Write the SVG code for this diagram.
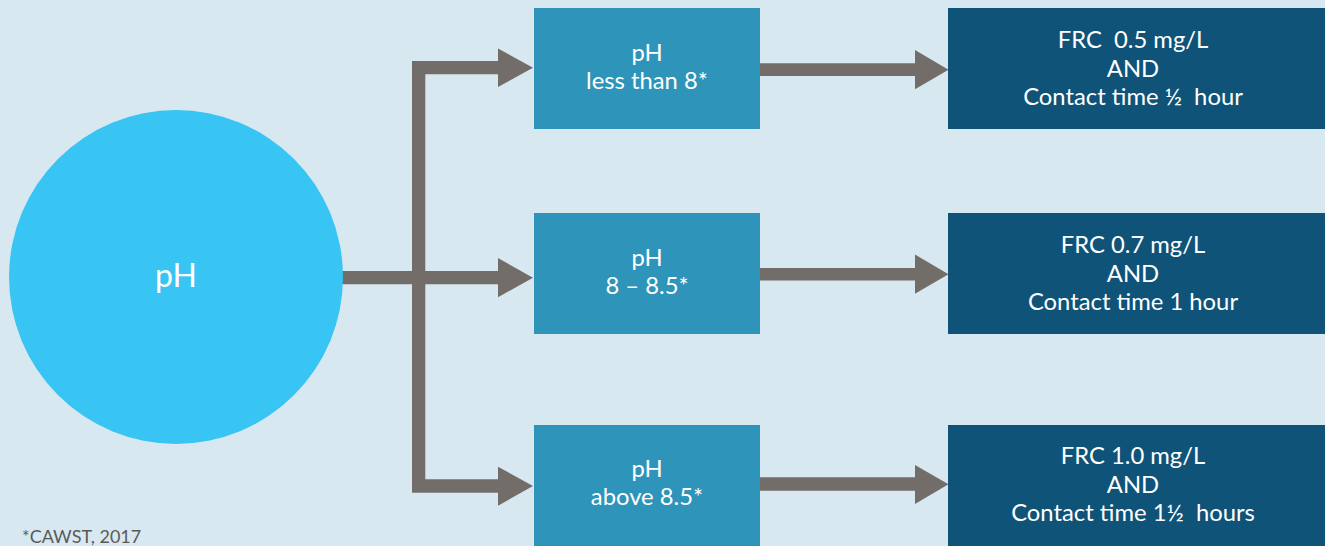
<svg xmlns="http://www.w3.org/2000/svg" width="1325" height="546" viewBox="0 0 1325 546">
<defs>
<style>
.t{font-family:Lato,"Open Sans","Liberation Sans",sans-serif;fill:#ffffff;text-anchor:middle;font-size:23.8px}
.b2{fill:#2e94b9}
.b3{fill:#0f5378}
.ar{fill:#736d6a}
</style>
</defs>
<rect x="0" y="0" width="1325" height="546" fill="#d8e8f1"/>
<g id="connectors">
<path class="ar" d="M340 271 H412 V61 H498 V48.5 L533 67.7 L498 87 V74.3 H425.3 V271 H498 V258 L533 277.7 L498 297.3 V284.3 H425.3 V479.3 H498 V466.7 L533 486 L498 505.7 V492.7 H412 V284.3 H340 Z"/>
<path class="ar" d="M760 63.3 H915 V50 L948.5 69.7 L915 89.3 V76 H760 Z"/>
<path class="ar" d="M760 268 H915 V254.5 L948.5 274.2 L915 293.8 V280.5 H760 Z"/>
<path class="ar" d="M760 477.3 H915 V465 L948.5 484.3 L915 504 V490.7 H760 Z"/>
</g>
<g id="node-ph">
<circle cx="176" cy="277" r="167" fill="#38c5f3"/>
<text class="t" x="176" y="287" style="font-size:32px">pH</text>
</g>
<g id="node-lt8">
<rect class="b2" x="534" y="8" width="226" height="121"/>
<text class="t" x="647" y="61">pH</text>
<text class="t" x="647" y="88.5">less than 8*</text>
</g>
<g id="node-8to85">
<rect class="b2" x="534" y="213" width="226" height="121"/>
<text class="t" x="647" y="266">pH</text>
<text class="t" x="647" y="293.5">8 – 8.5*</text>
</g>
<g id="node-gt85">
<rect class="b2" x="534" y="425" width="226" height="130"/>
<text class="t" x="647" y="477">pH</text>
<text class="t" x="647" y="504.5">above 8.5*</text>
</g>
<g id="node-frc05">
<rect class="b3" x="948" y="8" width="380" height="121"/>
<text class="t" x="1133" y="47.7" xml:space="preserve">FRC  0.5 mg/L</text>
<text class="t" x="1133" y="76.5">AND</text>
<text class="t" x="1133" y="105" xml:space="preserve">Contact time ½  hour</text>
</g>
<g id="node-frc07">
<rect class="b3" x="948" y="213" width="380" height="121"/>
<text class="t" x="1133" y="252.5">FRC 0.7 mg/L</text>
<text class="t" x="1133" y="281.5">AND</text>
<text class="t" x="1133" y="310">Contact time 1 hour</text>
</g>
<g id="node-frc10">
<rect class="b3" x="948" y="425" width="380" height="130"/>
<text class="t" x="1133" y="463.5">FRC 1.0 mg/L</text>
<text class="t" x="1133" y="492.5">AND</text>
<text class="t" x="1133" y="521" xml:space="preserve">Contact time 1½  hours</text>
</g>
<text x="22" y="543" font-family="Lato,'Open Sans','Liberation Sans',sans-serif" font-size="18" fill="#5a5a5a">*CAWST, 2017</text>
</svg>
